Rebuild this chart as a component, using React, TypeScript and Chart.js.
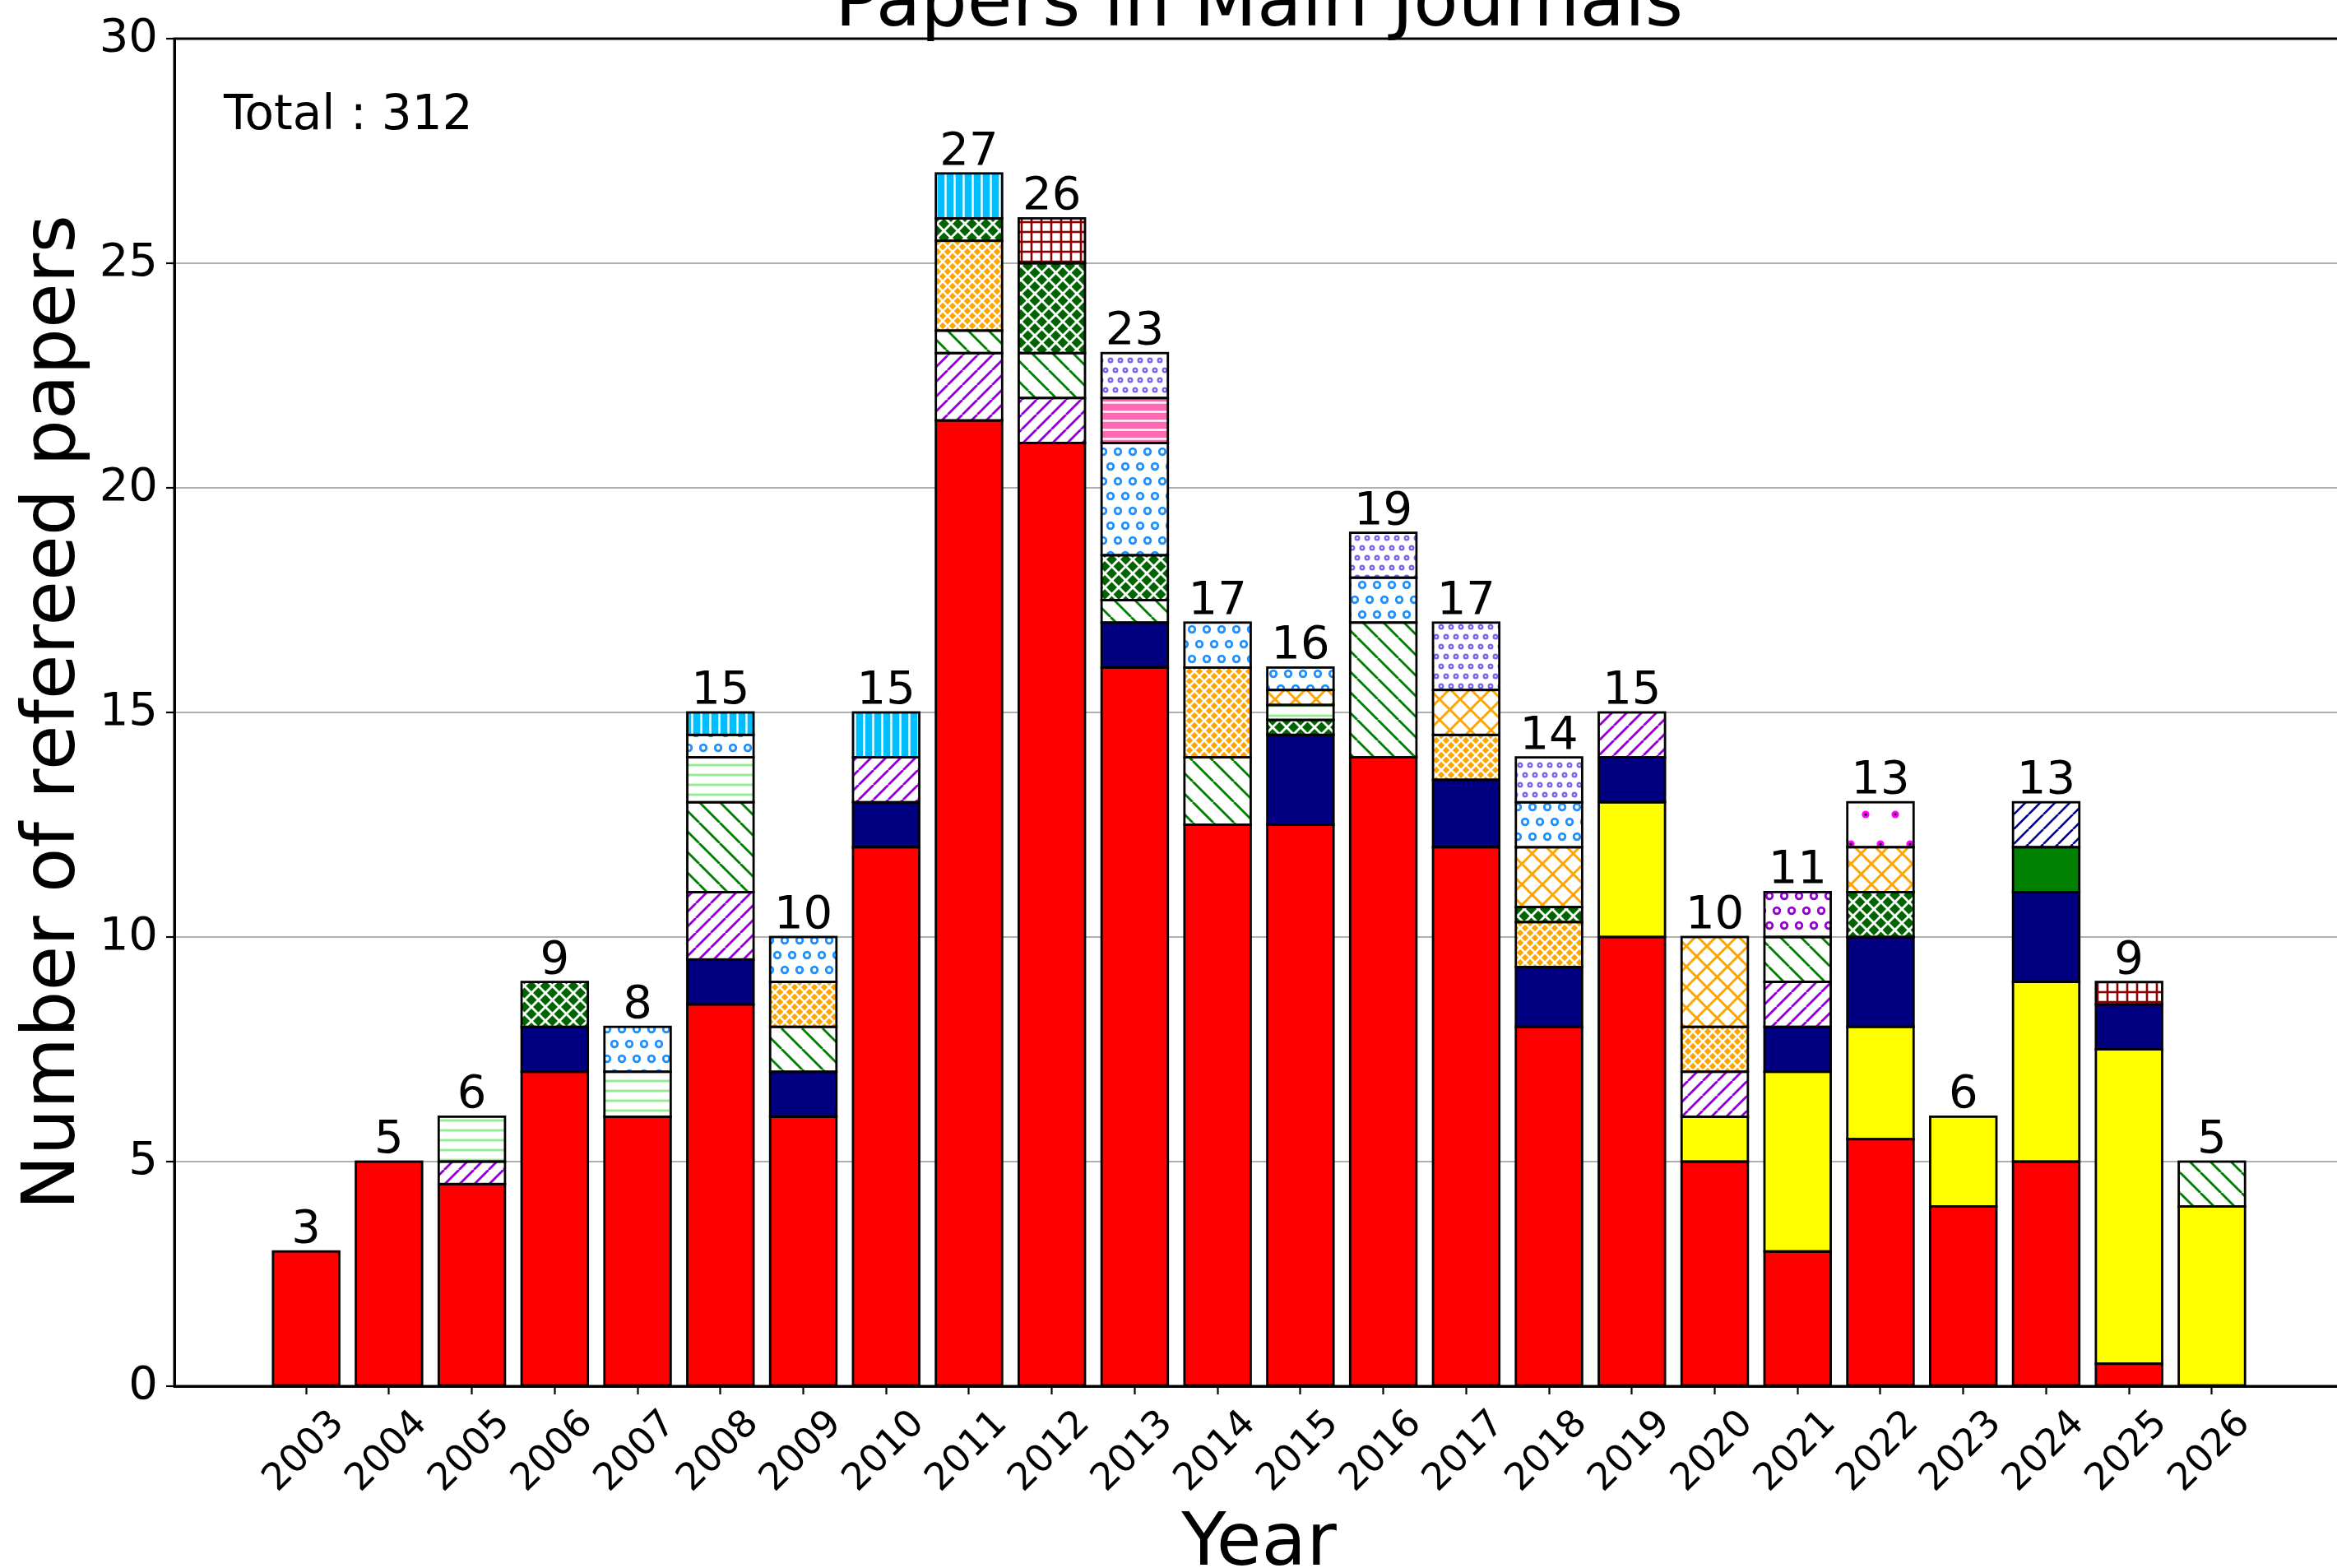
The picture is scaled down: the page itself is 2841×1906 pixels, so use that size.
import React, { useEffect, useRef } from 'react';
import { Chart, registerables } from 'chart.js';

Chart.register(...registerables);

// ---------------- data ----------------
const _ = null;
const years = [2003, 2004, 2005, 2006, 2007, 2008, 2009, 2010, 2011, 2012, 2013, 2014, 2015, 2016, 2017, 2018, 2019, 2020, 2021, 2022, 2023, 2024, 2025, 2026];
const barLabels = [3, 5, 6, 9, 8, 15, 10, 15, 27, 26, 23, 17, 16, 19, 17, 14, 15, 10, 11, 13, 6, 13, 9, 5];
const yTicks = [0, 5, 10, 15, 20, 25, 30];
const chartTitle = 'Papers in Main Journals';
const xTitle = 'Year';
const yTitle = 'Number of refereed papers';
const totalText = 'Total : 312';

// series (bottom of the stack first), one value per year
const redSolid      = [3, 5, 4.5, 7, 6, 8.5, 6, 12, 21.5, 21, 16, 12.5, 12.5, 14, 12, 8, 10, 5, 3, 5.5, 4, 5, 0.5, _];
const yellowSolid   = [_, _, _, _, _, _, _, _, _, _, _, _, _, _, _, _, 3, 1, 4, 2.5, 2, 4, 7, 4];
const navySolid     = [_, _, _, 1, _, 1, 1, 1, _, _, 1, _, 2, _, 1.5, 1.333, 1, _, 1, 2, _, 2, 1, _];
const violetDiag    = [_, _, 0.5, _, _, 1.5, _, 1, 1.5, 1, _, _, _, _, _, _, 1, 1, 1, _, _, _, _, _];
const greenBackDiag = [_, _, _, _, _, 2, 1, _, 0.5, 1, 0.5, 1.5, _, 3, _, _, _, _, 1, _, _, _, _, 1];
const orangeDenseX  = [_, _, _, _, _, _, 1, _, 2, _, _, 2, _, _, 1, 1, _, 1, _, _, _, _, _, _];
const darkGreenX    = [_, _, _, 1, _, _, _, _, 0.5, 2, 1, _, 0.333, _, _, 0.333, _, _, _, 1, _, _, _, _];
const lightGreenH   = [_, _, 1, _, 1, 1, _, _, _, _, _, _, 0.333, _, _, _, _, _, _, _, _, _, _, _];
const orangeX       = [_, _, _, _, _, _, _, _, _, _, _, _, 0.333, _, 1, 1.333, _, 2, _, 1, _, _, _, _];
const blueRings     = [_, _, _, _, 1, 0.5, 1, _, _, _, 2.5, 1, 0.5, 1, _, 1, _, _, _, _, _, _, _, _];
const pinkH         = [_, _, _, _, _, _, _, _, _, _, 1, _, _, _, _, _, _, _, _, _, _, _, _, _];
const purpleDots    = [_, _, _, _, _, _, _, _, _, _, 1, _, _, 1, 1.5, 1, _, _, _, _, _, _, _, _];
const skyBlueV      = [_, _, _, _, _, 0.5, _, 1, 1, _, _, _, _, _, _, _, _, _, _, _, _, _, _, _];
const darkRedGrid   = [_, _, _, _, _, _, _, _, _, 1, _, _, _, _, _, _, _, _, _, _, _, _, 0.5, _];
const greenSolid    = [_, _, _, _, _, _, _, _, _, _, _, _, _, _, _, _, _, _, _, _, _, 1, _, _];
const navyDiag      = [_, _, _, _, _, _, _, _, _, _, _, _, _, _, _, _, _, _, _, _, _, 1, _, _];
const violetRings   = [_, _, _, _, _, _, _, _, _, _, _, _, _, _, _, _, _, _, 1, _, _, _, _, _];
const magentaDots   = [_, _, _, _, _, _, _, _, _, _, _, _, _, _, _, _, _, _, _, 1, _, _, _, _];

const seriesValues = [
  redSolid, yellowSolid, navySolid, violetDiag, greenBackDiag, orangeDenseX, darkGreenX,
  lightGreenH, orangeX, blueRings, pinkH, purpleDots, skyBlueV, darkRedGrid,
  greenSolid, navyDiag, violetRings, magentaDots,
];

// ---------------- styles ----------------
type Style = { fill?: string; bg?: string; fg?: string; kind?: string; period?: number; lw?: number; r?: number };
const seriesStyles: Style[] = [
  { fill: '#ff0000' },
  { fill: '#ffff00' },
  { fill: '#000080' },
  { bg: '#ffffff', fg: '#9400d3', kind: 'diagF', period: 18, lw: 2.8 },
  { bg: '#ffffff', fg: '#008000', kind: 'diagB', period: 25, lw: 2.8 },
  { bg: '#ffa500', fg: '#ffffff', kind: 'cross', period: 12, lw: 2.6 },
  { bg: '#006400', fg: '#ffffff', kind: 'cross', period: 17, lw: 2.8 },
  { bg: '#ffffff', fg: '#90ee90', kind: 'hlines', period: 12, lw: 2.8 },
  { bg: '#ffffff', fg: '#ffa500', kind: 'cross', period: 25, lw: 3 },
  { bg: '#ffffff', fg: '#1e90ff', kind: 'rings', period: 18, r: 3.8, lw: 2.8 },
  { bg: '#ff69b4', fg: '#ffffff', kind: 'hlines', period: 11, lw: 2.4 },
  { bg: '#ffffff', fg: '#7b68ee', kind: 'rings', period: 12, r: 2.3, lw: 2.4 },
  { bg: '#00bfff', fg: '#ffffff', kind: 'vlines', period: 11, lw: 2.4 },
  { bg: '#ffffff', fg: '#8b0000', kind: 'grid', period: 12, lw: 2.6 },
  { fill: '#008000' },
  { bg: '#ffffff', fg: '#000080', kind: 'diagF', period: 18, lw: 2.6 },
  { bg: '#ffffff', fg: '#9400d3', kind: 'rings', period: 18, r: 3.8, lw: 2.8 },
  { bg: '#ffffff', fg: '#ff00ff', kind: 'dots', period: 36, r: 4.6 },
];

const W = 2841;
const H = 1906;
const FONT = '"DejaVu Sans", "Liberation Sans", sans-serif';
const X_MIN = 2001.41;
const X_MAX = 2027.51;

function makeFill(ctx: CanvasRenderingContext2D, st: Style): any {
  if (st.fill) return st.fill;
  const P = st.period as number;
  const tall = st.kind === 'rings' || st.kind === 'dots';
  const c = document.createElement('canvas');
  c.width = P;
  c.height = tall ? 2 * P : P;
  const g = c.getContext('2d') as CanvasRenderingContext2D;
  g.fillStyle = st.bg as string;
  g.fillRect(0, 0, c.width, c.height);
  g.strokeStyle = st.fg as string;
  g.fillStyle = st.fg as string;
  g.lineWidth = st.lw || 2;
  const line = (x0: number, y0: number, x1: number, y1: number) => {
    g.beginPath();
    g.moveTo(x0, y0);
    g.lineTo(x1, y1);
    g.stroke();
  };
  const fwd = () => { for (let k = -1; k <= 1; k++) line(k * P, P, k * P + P, 0); };
  const back = () => { for (let k = -1; k <= 1; k++) line(k * P, 0, k * P + P, P); };
  const centers = [[P / 2, P / 2], [0, 1.5 * P], [P, 1.5 * P]];
  switch (st.kind) {
    case 'diagF': fwd(); break;
    case 'diagB': back(); break;
    case 'cross': fwd(); back(); break;
    case 'hlines': line(0, P / 2, P, P / 2); break;
    case 'vlines': line(P / 2, 0, P / 2, P); break;
    case 'grid': line(0, P / 2, P, P / 2); line(P / 2, 0, P / 2, P); break;
    case 'rings':
      centers.forEach(([cx, cy]) => { g.beginPath(); g.arc(cx, cy, st.r as number, 0, Math.PI * 2); g.stroke(); });
      break;
    case 'dots':
      centers.forEach(([cx, cy]) => {
        g.fillStyle = st.fg as string;
        g.beginPath(); g.arc(cx, cy, st.r as number, 0, Math.PI * 2); g.fill();
        g.fillStyle = '#000000';
        g.beginPath(); g.arc(cx, cy, 1.6, 0, Math.PI * 2); g.fill();
      });
      break;
  }
  return ctx.createPattern(c, 'repeat');
}

const overlayPlugin = {
  id: 'overlay',
  beforeDraw(chart: any) {
    const ctx = chart.ctx;
    ctx.save();
    ctx.fillStyle = '#ffffff';
    ctx.fillRect(0, 0, chart.width, chart.height);
    ctx.restore();
  },
  afterDatasetsDraw(chart: any) {
    const ctx: CanvasRenderingContext2D = chart.ctx;
    const { left, top, right, bottom } = chart.chartArea;
    const xs = chart.scales.x;
    const ys = chart.scales.y;

    // bar outlines (centered on edges, like matplotlib)
    ctx.save();
    ctx.strokeStyle = '#000000';
    ctx.lineWidth = 2.8;
    ctx.lineJoin = 'miter';
    chart.data.datasets.forEach((ds: any, di: number) => {
      const meta = chart.getDatasetMeta(di);
      meta.data.forEach((el: any, i: number) => {
        if (seriesValues[di][i] == null) return;
        const p = el.getProps(['x', 'y', 'base', 'width'], true);
        ctx.strokeRect(p.x - p.width / 2, Math.min(p.y, p.base), p.width, Math.abs(p.base - p.y));
      });
    });
    ctx.restore();

    // spines
    ctx.save();
    ctx.strokeStyle = '#000000';
    ctx.lineWidth = 3;
    ctx.beginPath();
    ctx.moveTo(left, bottom);
    ctx.lineTo(left, top);
    ctx.lineTo(right, top);
    ctx.moveTo(left - 1.5, bottom);
    ctx.lineTo(right, bottom);
    ctx.stroke();
    ctx.restore();

    ctx.save();
    ctx.fillStyle = '#000000';

    // value labels above the bars
    ctx.font = `56px ${FONT}`;
    ctx.textAlign = 'center';
    ctx.textBaseline = 'alphabetic';
    years.forEach((yr, i) => {
      let sum = 0;
      seriesValues.forEach((s) => { if (s[i] != null) sum += s[i] as number; });
      const px = xs.getPixelForValue(yr);
      const py = ys.getPixelForValue(sum);
      ctx.fillText(String(barLabels[i]), px, py - 11);
    });

    // total annotation
    ctx.textAlign = 'left';
    ctx.font = `58px ${FONT}`;
    ctx.fillText(totalText, left + 60, top + 110);

    // x tick labels (rotated 45°, centred under tick)
    ctx.font = `46px ${FONT}`;
    ctx.textAlign = 'center';
    ctx.textBaseline = 'middle';
    years.forEach((yr) => {
      const px = xs.getPixelForValue(yr);
      ctx.save();
      ctx.translate(px - 2, bottom + 80);
      ctx.rotate(-Math.PI / 4);
      ctx.fillText(String(yr), 0, 0);
      ctx.restore();
    });

    // titles
    const cx = xs.getPixelForValue((X_MIN + 2027.59) / 2);
    ctx.font = `89px ${FONT}`;
    ctx.textAlign = 'center';
    ctx.textBaseline = 'alphabetic';
    ctx.fillText(chartTitle, cx, 31);
    ctx.fillText(xTitle, cx, 1902);
    ctx.save();
    ctx.translate(90, (top + bottom) / 2);
    ctx.rotate(-Math.PI / 2);
    ctx.fillText(yTitle, 0, 0);
    ctx.restore();

    ctx.restore();
  },
};

export default function App() {
  const ref = useRef<HTMLCanvasElement>(null);
  useEffect(() => {
    document.body.style.margin = '0';
    document.body.style.overflow = 'hidden';
    const canvas = ref.current as HTMLCanvasElement;
    const ctx = canvas.getContext('2d') as CanvasRenderingContext2D;
    const datasets = seriesValues.map((vals, si) => ({
      label: `series${si}`,
      data: years.map((yr, i) => ({ x: yr, y: vals[i] })),
      backgroundColor: makeFill(ctx, seriesStyles[si]),
      borderWidth: 0,
      borderSkipped: false,
      barPercentage: 0.8,
      categoryPercentage: 1.0,
    }));
    const chart = new Chart(ctx, {
      type: 'bar',
      data: { datasets } as any,
      plugins: [overlayPlugin],
      options: {
        responsive: false,
        animation: false,
        devicePixelRatio: 1,
        events: [],
        layout: { padding: { top: 47, left: 0, right: 0, bottom: 0 } },
        plugins: {
          legend: { display: false },
          tooltip: { enabled: false },
          title: { display: false },
        },
        scales: {
          x: {
            type: 'linear',
            stacked: true,
            offset: false,
            min: X_MIN,
            max: X_MAX,
            afterBuildTicks: (scale: any) => { scale.ticks = years.map((v) => ({ value: v })); },
            afterFit: (scale: any) => { scale.height = H - 1685; },
            ticks: { display: false },
            grid: {
              display: true,
              offset: false,
              drawOnChartArea: false,
              drawTicks: true,
              tickLength: 10,
              tickColor: '#000000',
              tickWidth: 2.2,
            },
            border: { display: true, color: '#000000', width: 3 },
          },
          y: {
            type: 'linear',
            stacked: true,
            min: 0,
            max: 30,
            afterBuildTicks: (scale: any) => { scale.ticks = yTicks.map((v) => ({ value: v })); },
            afterFit: (scale: any) => { scale.width = 212; },
            ticks: {
              color: '#000000',
              padding: 10,
              font: { family: FONT, size: 56 },
              callback: (v: any) => String(v),
            },
            grid: {
              color: '#b0b0b0',
              lineWidth: 2,
              drawTicks: true,
              tickLength: 10,
              tickColor: '#000000',
              tickWidth: 2.2,
            },
            border: { display: true, color: '#000000', width: 3 },
          },
        },
      } as any,
    });
    return () => chart.destroy();
  }, []);
  return <canvas ref={ref} width={W} height={H} style={{ display: 'block', width: W, height: H }} />;
}
